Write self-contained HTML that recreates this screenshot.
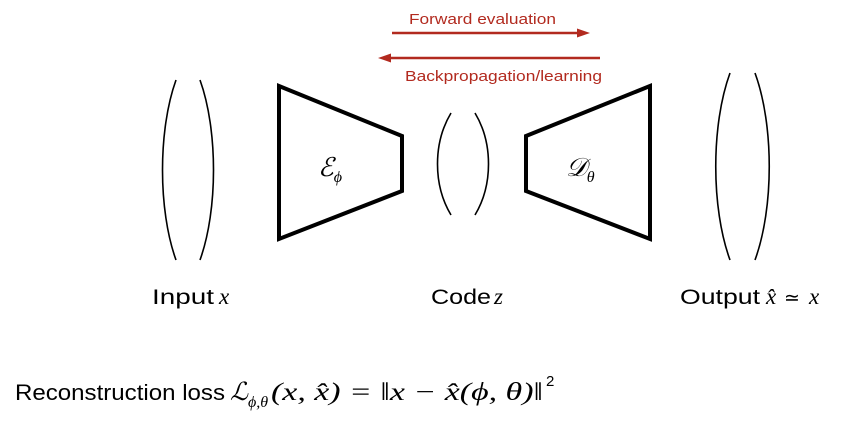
<!DOCTYPE html>
<html><head><meta charset="utf-8"><style>
body{margin:0;width:844px;height:426px;background:#fff;overflow:hidden}
svg{display:block}
text{font-family:"Liberation Sans",sans-serif}
.m{font-family:"Liberation Serif",serif;font-style:italic}
</style></head><body>
<svg width="844" height="426" viewBox="0 0 844 426">
<g fill="none" stroke="#000" stroke-width="1.6">
<path d="M176,80 C158,130 158,210 176,260"/>
<path d="M200,80 C218,130 218,210 200,260"/>
<path d="M451,113 C433,143 433,185 451,215"/>
<path d="M475,113 C493,143 493,185 475,215"/>
<path d="M730,73 C711,125 711,208 730,260"/>
<path d="M755,73 C774,125 774,208 755,260"/>
</g>
<g fill="none" stroke="#000" stroke-width="4" stroke-linejoin="miter">
<polygon points="279,86 402,136 402,191 279,239"/>
<polygon points="526,136 650,86 650,239 526,191"/>
</g>
<g stroke="#b22a1f" stroke-width="2.5" fill="#b22a1f">
<line x1="392" y1="33" x2="580" y2="33"/>
<polygon points="590,33 577,28.5 577,37.5" stroke="none"/>
<line x1="600" y1="58" x2="390" y2="58"/>
<polygon points="378,58 391,53.5 391,62.5" stroke="none"/>
</g>
<text x="409" y="24" font-size="15" fill="#b22a1f" textLength="147" lengthAdjust="spacingAndGlyphs">Forward evaluation</text>
<text x="405" y="81" font-size="15" fill="#b22a1f" textLength="197" lengthAdjust="spacingAndGlyphs">Backpropagation/learning</text>
<text x="318" y="176" font-size="26" class="m">ℰ<tspan font-size="16" dy="6">ϕ</tspan></text>
<text x="566" y="176" font-size="26" class="m">𝒟<tspan font-size="16" dy="6">θ</tspan></text>
<text x="152" y="304" font-size="21" textLength="62" lengthAdjust="spacingAndGlyphs">Input</text>
<text x="219" y="304" font-size="23" class="m">x</text>
<text x="431" y="304" font-size="21" textLength="60" lengthAdjust="spacingAndGlyphs">Code</text>
<text x="494" y="304" font-size="23" class="m">z</text>
<text x="680" y="304" font-size="21" textLength="80" lengthAdjust="spacingAndGlyphs">Output</text>
<text x="766" y="304" font-size="23" class="m">x̂</text>
<text x="784" y="304" font-family="DejaVu Sans" font-size="19">≃</text>
<text x="809" y="304" font-size="23" class="m">x</text>
<text x="15" y="400" font-size="22" textLength="210" lengthAdjust="spacingAndGlyphs">Reconstruction loss</text>
<text x="230" y="400" font-size="25" class="m">ℒ<tspan font-size="16" dy="7">ϕ,θ</tspan></text>
<text x="271" y="400" font-size="25" class="m" textLength="272" lengthAdjust="spacingAndGlyphs">(x, x̂) = ‖x − x̂(ϕ, θ)‖</text>
<text x="546" y="386" font-size="15">2</text>
</svg>
</body></html>
